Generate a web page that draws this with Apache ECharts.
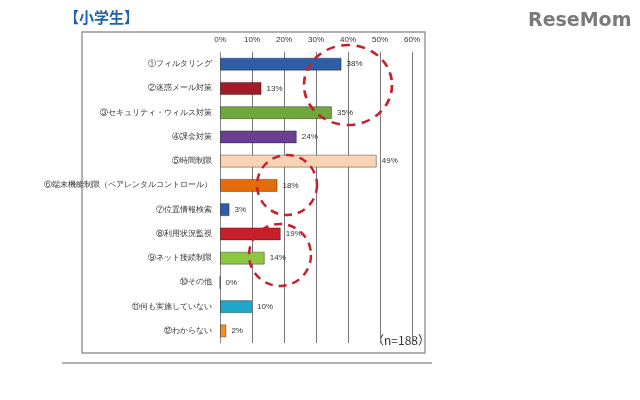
<!DOCTYPE html><html><head><meta charset="utf-8"><script src="https://cdn.jsdelivr.net/npm/echarts@6/dist/echarts.min.js"></script></head><body style="margin:0;background:#fff"><div id="c" style="width:640px;height:400px"></div><script>
const categories=['①フィルタリング','②迷惑メール対策','③セキュリティ・ウィルス対策','④課金対策','⑤時間制限','⑥端末機能制限（ペアレンタルコントロール）','⑦位置情報検索','⑧利用状況監視','⑨ネット接続制限','⑩その他','⑪何も実施していない','⑫わからない'];
const values=[38,13,35,24,49,18,3,19,14,0,10,2];
const colors=['#2E5EA8','#A31B25','#6FA83A','#6A3E91','#FAD3B5','#E46C0A','#2E5EA8','#C8202B','#8DC63F','#999','#1EA7C8','#F39020'];
const ticks=[0,10,20,30,40,50,60];
const ch=echarts.init(document.getElementById('c'));
const dash={stroke:'#C8202B',lineWidth:2.5,lineDash:[8,6],fill:null};
ch.setOption({animation:false,
grid:{left:220,right:228,top:52,bottom:57},
xAxis:{type:'value',position:'top',min:0,max:60,interval:10,axisLabel:{formatter:'{value}%',fontSize:8,color:'#333'},splitLine:{lineStyle:{color:'#777'}},axisLine:{show:false},axisTick:{show:false}},
yAxis:{type:'category',inverse:true,data:categories,axisLabel:{fontSize:7.5,color:'#333',margin:8},axisLine:{lineStyle:{color:'#888'}},axisTick:{lineStyle:{color:'#888'}}},
series:[{type:'bar',barWidth:13,data:values.map((v,i)=>({value:v,itemStyle:{color:colors[i],borderColor:'rgba(0,0,0,0.35)',borderWidth:1}})),label:{show:true,position:'right',formatter:'{c}%',fontSize:8,color:'#333'}}],
graphic:[
{type:'rect',shape:{x:82,y:32,width:343,height:321},style:{fill:null,stroke:'#999',lineWidth:1.5},z:-1},
{type:'line',shape:{x1:62,y1:363,x2:432,y2:363},style:{stroke:'#666',lineWidth:1}},
{type:'text',left:64,top:10,style:{text:'【小学生】',fill:'#1F63B0',font:'bold 15px "Noto Sans CJK JP"'}},
{type:'text',left:528,top:12,style:{text:'ReseMom',fill:'#7a7a7a',font:'bold 19px "DejaVu Sans"'}},
{type:'text',left:372,top:334,style:{text:'（n=188）',fill:'#333',font:'12px "Noto Sans CJK JP"'}},
{type:'circle',shape:{cx:0,cy:0,r:40},x:348,y:85,scaleX:1.1,scaleY:1,style:dash,z:10},
{type:'circle',shape:{cx:287,cy:185,r:30},style:dash,z:10},
{type:'circle',shape:{cx:280,cy:255,r:31},style:dash,z:10}
]});
</script></body></html>
